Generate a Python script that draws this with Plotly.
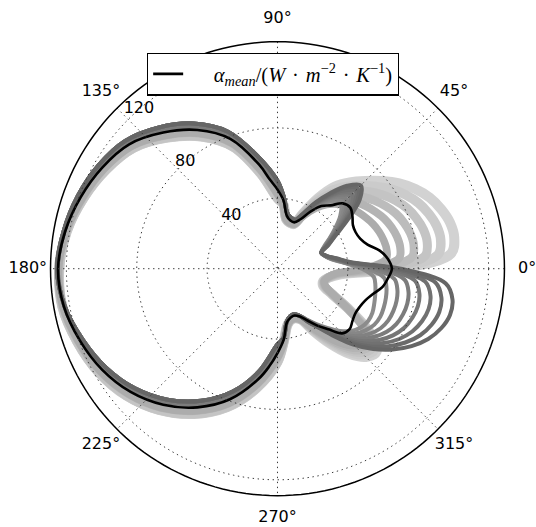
import plotly.graph_objects as go

# ---------------------------------------------------------------------------
# Data (angles in degrees, values in W m^-2 K^-1)
# ---------------------------------------------------------------------------
r_max = 129                      # radius of the plotted rim
radial_ticks = [40, 80, 120]
angle_ticks = [0, 45, 90, 135, 180, 225, 270, 315]

# mean heat-transfer coefficient around the circumference
mean_theta = [0, 5, 10, 15, 20, 25, 30, 35, 40, 45, 50, 55, 60, 65, 70, 75, 80, 85, 90, 95, 100,
              110, 120, 130, 140, 150, 160, 170, 180, 190, 200, 210, 220, 230, 240, 250,
              260, 265, 270, 275, 280, 285, 290, 295, 300, 305, 310, 315, 320, 325, 330, 335,
              340, 345, 350, 355, 360]
mean_r = [65, 63, 59, 53, 50, 49, 49.5, 52, 54, 52.5, 47, 43.5, 37.5, 31, 28, 28.3, 30.5, 39, 45, 51, 60,
          78.5, 91, 101, 110, 115, 119, 122.5, 124.7, 123.3, 119.5, 115, 109, 101, 91, 79,
          64, 56, 48, 40.5, 31, 28.8, 28.3, 30, 34, 39.5, 45, 52, 53.5, 52, 51, 51.5,
          53, 56, 60.5, 63, 65]

# right-hand sector (wake side), sampled every 5 degrees
theta_right = [-85, -80, -75, -70, -65, -60, -55, -50, -45, -40, -35, -30, -25, -20, -15, -10, -5,
               0, 5, 10, 15, 20, 25, 30, 35, 40, 45, 50, 55, 60, 65, 70, 75, 80, 85]
# left-hand sector (stagnation side), sampled every 10 degrees
theta_left = [90, 100, 110, 120, 130, 140, 150, 160, 170, 180, 190, 200, 210, 220, 230, 240, 250, 260, 270]

# instantaneous profiles, first phase (light): large lobe above the axis
light_0 = [41.5, 32.5, 30, 30, 32, 41, 52, 63, 71, 73.5, 65, 48, 34, 27.5, 27, 29.5, 36, 70, 99, 102,
           101.5, 99, 95.5, 90.5, 84.5, 77.5, 70.5, 64, 57, 46.5, 35, 27, 27, 28.5, 37]
light_1 = [41.5, 32.5, 30, 30, 32, 40.4, 50.8, 61.4, 69.2, 71.8, 64, 47.8, 34.2, 27.8, 27.1, 29.4, 35.4, 66, 91.6, 94.2,
           93.7, 91.5, 88.4, 84, 78.8, 72.8, 66.7, 60.8, 54.3, 44.8, 34.4, 27, 27, 28.5, 37]
light_2 = [41.5, 32.5, 30, 30, 32, 39.8, 49.6, 59.8, 67.4, 70.1, 63, 47.6, 34.4, 28.1, 27.2, 29.3, 34.8, 62, 84.2, 86.4,
           85.9, 84, 81.3, 77.5, 73.1, 68.1, 62.9, 57.6, 51.6, 43.1, 33.8, 27, 27, 28.5, 37]
light_3 = [41.5, 32.5, 30, 30, 32, 39.2, 48.4, 58.2, 65.6, 68.4, 62, 47.4, 34.6, 28.4, 27.3, 29.2, 34.2, 58, 76.8, 78.6,
           78.1, 76.5, 74.2, 71, 67.4, 63.4, 59.1, 54.4, 48.9, 41.4, 33.2, 27, 27, 28.5, 37]
light_4 = [41.5, 32.5, 30, 30, 32, 38.6, 47.2, 56.6, 63.8, 66.7, 61, 47.2, 34.8, 28.7, 27.4, 29.1, 33.6, 54, 69.4, 70.8,
           70.3, 69, 67.1, 64.5, 61.7, 58.7, 55.3, 51.2, 46.2, 39.7, 32.6, 27, 27, 28.5, 37]
light_5 = [41.5, 32.5, 30, 30, 32, 38, 46, 55, 62, 65, 60, 47, 35, 29, 27.5, 29, 33, 50, 62, 63,
           62.5, 61.5, 60, 58, 56, 54, 51.5, 48, 43.5, 38, 32, 27, 27, 28.5, 37]

# instantaneous profiles, second phase (dark): large lobe below the axis
dark_0 = [39.5, 30.5, 28, 27.5, 29.5, 33.5, 38.5, 44, 50, 55, 58, 59.5, 59.5, 58.5, 57.5, 56.5, 55, 48, 38, 31,
          28, 26.5, 29, 34, 40, 46.5, 51, 50, 45.5, 39.5, 33, 29.5, 30, 32, 41]
dark_1 = [39.5, 30.5, 28, 27.5, 29.5, 33.7, 38.9, 44.9, 51.6, 57.3, 61.1, 63.6, 64.5, 64.3, 63.8, 62.9, 60.9, 51.1, 38.6, 31.4,
          28, 26.5, 29.5, 34.5, 41.5, 48.5, 53.5, 51.5, 46.5, 40, 33, 29.5, 30, 32, 41]
dark_2 = [39.5, 30.5, 28, 27.5, 29.5, 33.9, 39.2, 45.7, 53.1, 59.6, 64.3, 67.7, 69.5, 70.1, 70.1, 69.2, 66.7, 54.3, 39.1, 31.9,
          28, 26.5, 30, 35.5, 42.5, 50.5, 55.5, 53.5, 47.5, 40.5, 33.5, 29.5, 30, 32, 41]
dark_3 = [39.5, 30.5, 28, 27.5, 29.5, 34.1, 39.6, 46.6, 54.7, 61.9, 67.4, 71.7, 74.5, 75.9, 76.4, 75.6, 72.6, 57.4, 39.7, 32.3,
          28, 26.5, 30.5, 36, 44, 52.5, 58, 55, 48.5, 41, 33.5, 29.5, 30, 32, 41]
dark_4 = [39.5, 30.5, 28, 27.5, 29.5, 34.4, 39.9, 47.4, 56.3, 64.1, 70.6, 75.8, 79.5, 81.6, 82.6, 81.9, 78.4, 60.6, 40.3, 32.7,
          28.5, 26.5, 30.5, 36.5, 45, 55, 60, 56.5, 49.5, 42, 34, 29.5, 30, 32, 41]
dark_5 = [39.5, 30.5, 28, 27.5, 29.5, 34.6, 40.3, 48.3, 57.9, 66.4, 73.7, 79.9, 84.5, 87.4, 88.9, 88.3, 84.3, 63.7, 40.9, 33.1,
          28.5, 26.5, 31, 37, 46.5, 57, 62.5, 58, 50.5, 42.5, 34, 29.5, 30, 32, 41]
dark_6 = [39.5, 30.5, 28, 27.5, 29.5, 34.8, 40.6, 49.1, 59.4, 68.7, 76.9, 83.9, 89.5, 93.2, 95.2, 94.6, 90.1, 66.9, 41.4, 33.6,
          28.5, 26.5, 31.5, 38, 47.5, 59, 64.5, 60, 51.5, 43, 34.5, 29.5, 30, 32, 41]
dark_7 = [39.5, 30.5, 28, 27.5, 29.5, 35, 41, 50, 61, 71, 80, 88, 94.5, 99, 101.5, 101, 96, 70, 42, 34,
          28.5, 26.5, 32, 38.5, 49, 61, 67, 61.5, 52.5, 43.5, 34.5, 29.5, 30, 32, 41]

# stagnation-side values of the two phases
light_left_a = [42.5, 57.5, 76, 88.8, 99, 108.4, 113.8, 118, 122, 124.5, 123.8, 120.4, 116.3, 110.6, 103, 93.2, 81.4, 66.5, 50.5]
light_left_b = [40, 55, 73.8, 86.7, 97.2, 106.8, 112.5, 117.3, 121.6, 124, 124.2, 121.2, 117.5, 112.2, 104.8, 95.3, 83.7, 69, 53]
dark_left_a = [47.5, 62.5, 81, 93, 103, 111.5, 116.5, 120, 123, 124.9, 123, 118.5, 113.8, 107.5, 99, 88.8, 76.7, 61.5, 45.5]
dark_left_b = [50, 65, 83, 95.3, 104.8, 113, 117.5, 120.8, 123.4, 125.3, 122.8, 117.8, 112.5, 105.8, 97.2, 86.7, 74.3, 59, 43]

# ---------------------------------------------------------------------------
# Styles
# ---------------------------------------------------------------------------
light_profiles = [light_0, light_1, light_2, light_3, light_4, light_5]
light_lefts = [light_left_b, light_left_b, light_left_b, light_left_a, light_left_a, light_left_a]
light_colors = ["#d2d2d2", "#cbcbcb", "#c4c4c4", "#bcbcbc", "#b4b4b4", "#acacac"]
light_widths = [10, 9.5, 9, 8.5, 8, 7.5]

dark_profiles = [dark_0, dark_1, dark_2, dark_3, dark_4, dark_5, dark_6, dark_7]
dark_lefts = [dark_left_a] * 4 + [dark_left_b] * 4
dark_colors = ["#8c8c8c", "#878787", "#818181", "#7c7c7c", "#767676", "#717171", "#6b6b6b", "#666666"]
dark_widths = [4, 4, 4, 4, 4, 4, 4, 4]

grid_style = dict(color="#3a3a3a", width=1, dash="1.4px,3.6px")
label_font = dict(family="DejaVu Sans", size=16, color="black")
label_radius = 1.1 * r_max       # angular labels sit outside the rim
axis_extent = 143                # radial axis reaches past the labels
ring_theta = list(range(0, 361, 2))

legend_label = ("\u00a0\u00a0\u00a0\u00a0\u00a0<i>α</i><sub><i>mean</i></sub>/(<i>W</i>\u2004·\u2004<i>m</i>"
                "<sup>−2</sup>\u2004·\u2004<i>K</i><sup>−1</sup>)")


def closed_profile(right, left):
    theta = theta_right + theta_left + [theta_right[0] + 360]
    r = right + left + [right[0]]
    return theta, r


fig = go.Figure()

for prof, left, col, w in zip(light_profiles, light_lefts, light_colors, light_widths):
    th, rr = closed_profile(prof, left)
    fig.add_trace(go.Scatterpolar(theta=th, r=rr, mode="lines",
                                  line=dict(color=col, width=w, shape="spline"),
                                  showlegend=False, hoverinfo="skip"))

for prof, left, col, w in zip(dark_profiles, dark_lefts, dark_colors, dark_widths):
    th, rr = closed_profile(prof, left)
    fig.add_trace(go.Scatterpolar(theta=th, r=rr, mode="lines",
                                  line=dict(color=col, width=w, shape="spline"),
                                  showlegend=False, hoverinfo="skip"))

fig.add_trace(go.Scatterpolar(
    theta=mean_theta, r=mean_r, mode="lines",
    line=dict(color="black", width=2.6, shape="spline"),
    name=legend_label, showlegend=True, hoverinfo="skip"))

# dotted grid: rings at the radial ticks and spokes every 45 degrees
for rv in radial_ticks:
    fig.add_trace(go.Scatterpolar(theta=ring_theta, r=[rv] * len(ring_theta), mode="lines",
                                  line=grid_style, showlegend=False, hoverinfo="skip"))
for a in angle_ticks[:4]:
    fig.add_trace(go.Scatterpolar(theta=[a, a + 180], r=[r_max, r_max], mode="lines",
                                  line=grid_style, showlegend=False, hoverinfo="skip"))

# solid rim
fig.add_trace(go.Scatterpolar(theta=ring_theta, r=[r_max] * len(ring_theta), mode="lines",
                              line=dict(color="black", width=1.5),
                              showlegend=False, hoverinfo="skip"))

# radial tick labels
fig.add_trace(go.Scatterpolar(
    theta=[131] * len(radial_ticks), r=radial_ticks, mode="text",
    text=[str(v) for v in radial_ticks], textposition="middle center",
    textfont=label_font, showlegend=False, hoverinfo="skip", cliponaxis=False))

# angular tick labels
fig.add_trace(go.Scatterpolar(
    theta=angle_ticks, r=[label_radius] * len(angle_ticks), mode="text",
    text=[f"{a}°" for a in angle_ticks], textposition="middle center",
    textfont=label_font, showlegend=False, hoverinfo="skip", cliponaxis=False))

fig.update_layout(
    width=536, height=527,
    margin=dict(l=0, r=0, t=0, b=0),
    paper_bgcolor="white",
    showlegend=True,
    legend=dict(x=0.274, y=0.9, xanchor="left", yanchor="top",
                bgcolor="white", bordercolor="black", borderwidth=1.3,
                font=dict(family="Liberation Serif", size=20.5, color="black")),
    polar=dict(
        domain=dict(x=[0.0483, 0.9871], y=[0.0127, 0.9676]),
        bgcolor="rgba(0,0,0,0)",
        radialaxis=dict(range=[0, axis_extent], showticklabels=False, ticks="",
                        showline=False, showgrid=False),
        angularaxis=dict(showticklabels=False, ticks="", showline=False, showgrid=False,
                         rotation=0, direction="counterclockwise"),
    ),
)

fig.write_html("out.html")
